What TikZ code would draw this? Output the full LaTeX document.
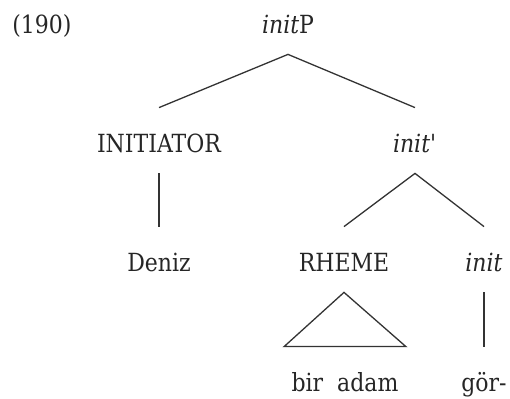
\documentclass[tikz,border=0pt]{standalone}
\usepackage{fontspec}
\setmainfont{DejaVu Serif}[FakeStretch=0.88]
\tikzset{
    treenode/.style={anchor=base, inner xsep=1pt, inner ysep=10pt,
        text height=12.5pt, text depth=0pt, text=black!85},
    roofnode/.style={treenode, minimum width=60.5pt},
    branch/.style={line width=0.65pt, black!80}
}
\begin{document}
\begin{tikzpicture}[x=0.5pt, y=-0.5pt, font=\fontsize{12.5pt}{15pt}\selectfont]
    \useasboundingbox (0,0) rectangle (510,399);

    % Numero
    \node[anchor=base west, inner sep=0pt, text=black!85] (num) at (12,34) {(190)};

    % Nodos
    \node[treenode] (initP) at (288,34) {\textit{init}P};
    \node[treenode] (initiator) at (159,153) {INITIATOR};
    \node[treenode] (initbar) at (415,153) {\textit{init\textquotesingle}};
    \node[treenode] (deniz) at (159,272) {Deniz};
    \node[treenode] (rheme) at (344,272) {RHEME};
    \node[treenode] (init) at (484,272) {\textit{init}};
    \node[roofnode] (biradam) at (345,392) {bir\ \ adam};
    \node[treenode] (gor) at (484,392) {gör-};

    % Ramas
    \draw[branch] (initiator.north) -- (initP.south) -- (initbar.north);
    \draw[branch] (initiator.south) -- (deniz.north);
    \draw[branch] (rheme.north) -- (initbar.south) -- (init.north);
    \draw[branch] (init.south) -- (gor.north);

    % Triangulo
    \draw[branch] (rheme.south) -- (biradam.north east) -- (biradam.north west) -- cycle;
\end{tikzpicture}
\end{document}
